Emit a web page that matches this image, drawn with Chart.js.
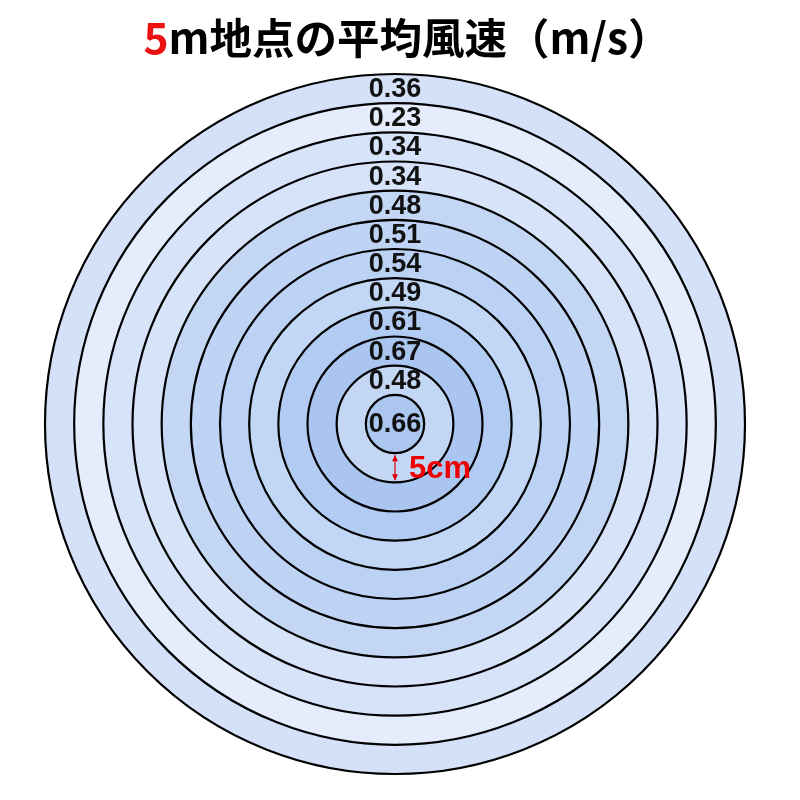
<!DOCTYPE html>
<html>
<head>
<meta charset="utf-8">
<script src="https://cdn.jsdelivr.net/npm/chart.js@4.4.0/dist/chart.umd.min.js"></script>
<style>
html, body { margin: 0; padding: 0; background: #fff; }
</style>
</head>
<body>
<canvas id="myChart" width="800" height="800"></canvas>
<script>
// rings from the outside in, the last one is the centre disc
const speeds = [0.36, 0.23, 0.34, 0.34, 0.48, 0.51, 0.54, 0.49, 0.61, 0.67, 0.48, 0.66]
const title_red = '5'
const title_rest = 'm地点の平均風速（m/s）'
const step_label = '5cm'

// light blue for slow, deeper blue for fast
function ring_color(v) {
	let lo = [229, 237, 252], hi = [170, 198, 240]
	let t = (v - 0.23) / (0.67 - 0.23)
	let c = lo.map((x, i) => Math.round(x + (hi[i] - x) * t))
	return `rgb(${c[0]},${c[1]},${c[2]})`
}

const rings_plugin = {
	id: 'rings',
	afterDatasetsDraw(chart) {
		const ctx = chart.ctx
		const metas = speeds.map((v, i) => chart.getDatasetMeta(i).data[0])
		ctx.save()
		ctx.strokeStyle = '#000'
		ctx.lineWidth = 2.2
		for (let arc of metas) {
			ctx.beginPath()
			ctx.arc(arc.x, arc.y, arc.outerRadius, 0, Math.PI * 2)
			ctx.stroke()
		}
		ctx.fillStyle = '#111'
		ctx.font = 'bold 27px "Liberation Sans", Arial, sans-serif'
		ctx.textAlign = 'center'
		ctx.textBaseline = 'middle'
		metas.forEach((arc, i) => {
			let y = arc.innerRadius > 0 ? arc.y - (arc.innerRadius + arc.outerRadius) / 2 : arc.y
			ctx.fillText(speeds[i].toFixed(2), arc.x, y + 1)
		})

		// spacing marker under the centre disc
		let disc = metas[metas.length - 1]
		let next = metas[metas.length - 2]
		let x = disc.x
		let y1 = disc.y + disc.outerRadius + 2
		let y2 = disc.y + next.outerRadius - 2
		ctx.strokeStyle = '#e00000'
		ctx.fillStyle = '#e00000'
		ctx.lineWidth = 1.2
		ctx.beginPath()
		ctx.moveTo(x, y1)
		ctx.lineTo(x, y2)
		ctx.stroke()
		ctx.beginPath()
		ctx.moveTo(x, y1); ctx.lineTo(x - 3, y1 + 6); ctx.lineTo(x + 3, y1 + 6); ctx.closePath()
		ctx.moveTo(x, y2); ctx.lineTo(x - 3, y2 - 6); ctx.lineTo(x + 3, y2 - 6); ctx.closePath()
		ctx.fill()
		ctx.fillStyle = '#ee0000'
		ctx.font = 'bold 31px "Liberation Sans", Arial, sans-serif'
		ctx.textAlign = 'left'
		ctx.fillText(step_label, x + 14, (y1 + y2) / 2 + 2)
		ctx.restore()
	},
	afterDraw(chart) {
		const ctx = chart.ctx
		ctx.save()
		ctx.font = 'bold 42.5px "Noto Sans CJK JP", sans-serif'
		ctx.textBaseline = 'alphabetic'
		ctx.textAlign = 'left'
		let w1 = ctx.measureText(title_red).width
		let w2 = ctx.measureText(title_rest).width
		let x = 407 - (w1 + w2) / 2
		ctx.fillStyle = '#ee1111'
		ctx.fillText(title_red, x, 54)
		ctx.fillStyle = '#000'
		ctx.fillText(title_rest, x + w1, 54)
		ctx.restore()
	}
}

new Chart('myChart', {
	type: 'doughnut',
	data: {
		labels: ['speed'],
		datasets: speeds.map(v => ({
			data: [1],
			backgroundColor: ring_color(v),
			borderWidth: 0,
			hoverOffset: 0
		}))
	},
	options: {
		responsive: false,
		animation: false,
		cutout: 0,
		layout: { padding: { top: 74, bottom: 26, left: 45, right: 55 } },
		plugins: {
			legend: { display: false },
			tooltip: { enabled: false },
			title: { display: false }
		},
		events: []
	},
	plugins: [rings_plugin]
})
</script>
</body>
</html>
